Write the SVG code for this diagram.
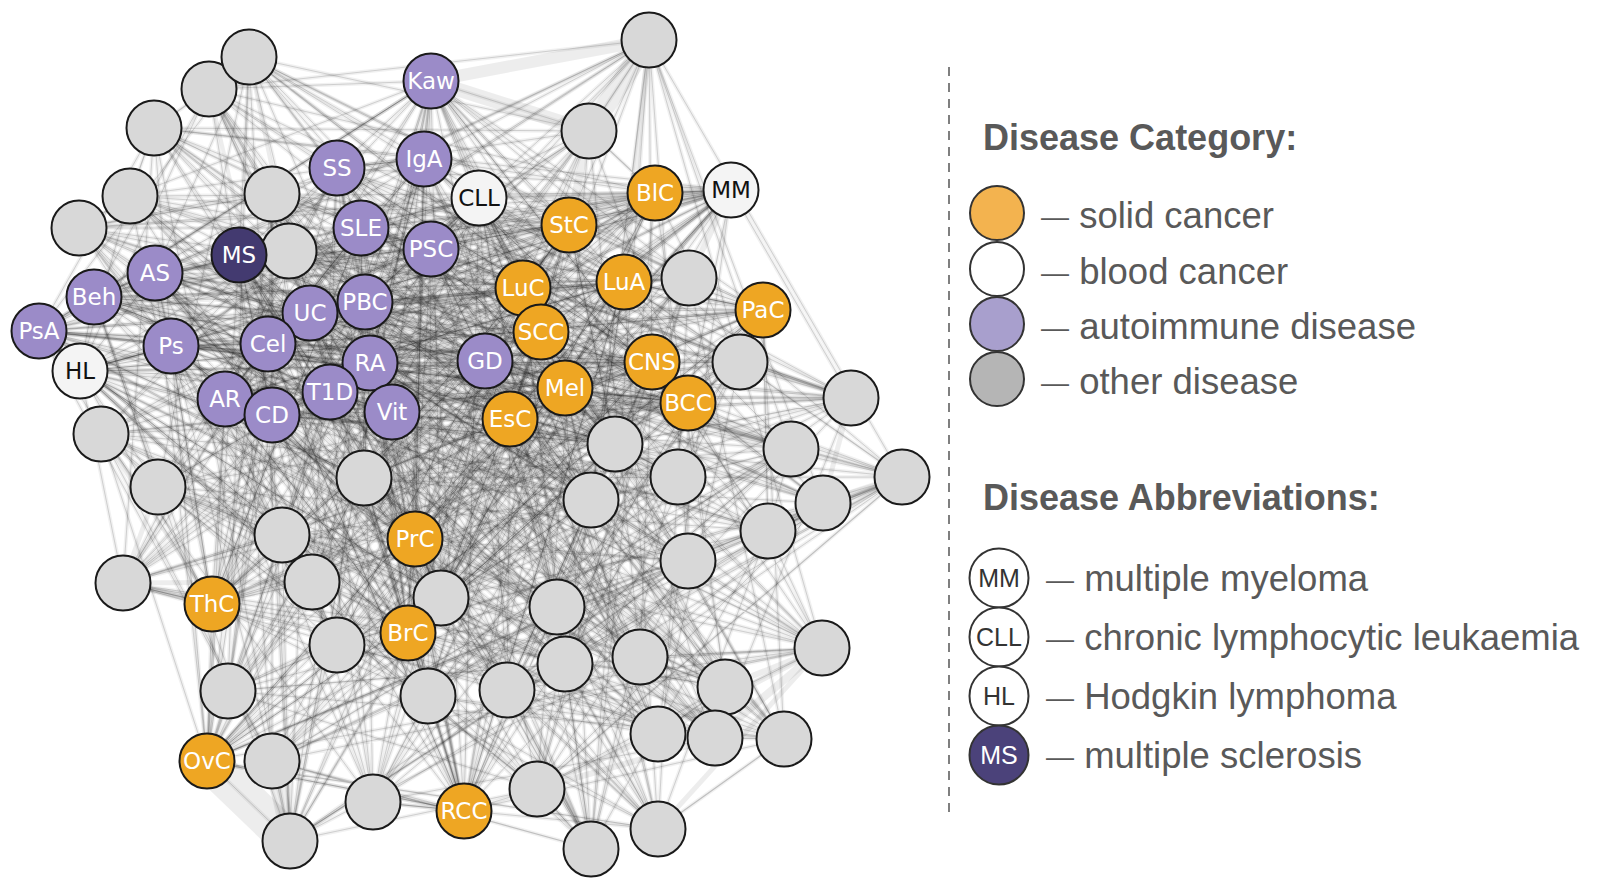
<svg xmlns="http://www.w3.org/2000/svg" width="1600" height="886" viewBox="0 0 1600 886">
<style>
.h{fill:none;stroke:#000;stroke-width:4;stroke-opacity:.055;stroke-linejoin:round}
.e{fill:none;stroke:#222;stroke-width:1;stroke-opacity:.17;stroke-linejoin:round}
.e2{fill:none;stroke:#222;stroke-width:1.2;stroke-opacity:.24;stroke-linejoin:round}
.c{fill:none;stroke:#222;stroke-width:1;stroke-opacity:.2;stroke-linejoin:round}
.b{fill:none;stroke:#000;stroke-opacity:.07;stroke-linecap:butt}
.node circle{stroke:#1a1a1a;stroke-width:2}
.node text{font-family:"DejaVu Sans",sans-serif;font-size:23px;text-anchor:middle;fill:#fff}
.g circle{fill:#d8d8d8}
.o circle{fill:#eea623}
.p circle{fill:#9b8bc8}
.m circle{fill:#433a70}
.w circle{fill:#f4f4f4}
.w text{fill:#111}
.lt{font-family:"Liberation Sans",Arial,sans-serif;font-size:36.5px;fill:#595959}
.lh{font-family:"Liberation Sans",Arial,sans-serif;font-size:36px;font-weight:bold;fill:#595959}
.lc{stroke:#333;stroke-width:2}
.ll{font-family:"Liberation Sans",Arial,sans-serif;font-size:25px;fill:#333;text-anchor:middle}
</style>
<defs>
<path id="k1" d="M249 57L822 648 431 81 158 487 649 40 39 331 415 539 652 362 370 363 209 89 640 657 424 159 282 535 589 131 80 371 441 598 688 403 330 392 154 128 725 687 337 168 123 583 655 193 171 346 408 633 740 362 392 412 130 196 658 734 361 228 212 604 731 190 268 344 428 696 851 398 485 361 79 228 715 738 431 249 312 582 569 225 225 399 373 802 615 444 541 332 272 194 784 739 479 198 337 645 523 288 272 415 464 811 678 477 510 419 289 251 658 829 365 302 228 691 624 282 101 434 557 607 791 449 364 478 239 255 207 761 689 278 565 664 902 477 565 388 155 273 272 761 763 310 507 690 823 503 94 297 290 841 537 789 591 500 310 313 591 849 768 531 688 561Z"/>
<path id="k3" d="M249 57L158 487 415 539 209 89 282 535 441 598 154 128 123 583 408 633 130 196 212 604 428 696 79 228 312 582 373 802 272 194 337 645 464 811 289 251 228 691 557 607 239 255 565 664 155 273 507 690 290 841 310 313 688 561 431 81 39 331 370 363 424 159 80 371 330 392 337 168 171 346 392 412 361 228 268 344 485 361 431 249 225 399 541 332 479 198 272 415 510 419 365 302 101 434 364 478 689 278 565 388 763 310 94 297 591 500 768 531 822 648 649 40 652 362 640 657 589 131 688 403 725 687 655 193 740 362 658 734 731 190 851 398 715 738 569 225 615 444 784 739 523 288 678 477 658 829 624 282 791 449 207 761 902 477 272 761 823 503 537 789 591 849Z"/>
<path id="k5" d="M249 57L39 331 640 657 441 598 337 168 740 362 212 604 485 361 569 225 272 194 272 415 658 829 557 607 689 278 272 761 290 841 768 531 158 487 370 363 589 131 154 128 171 346 658 734 428 696 431 249 615 444 337 645 510 419 624 282 239 255 565 388 823 503 310 313 822 648 415 539 424 159 688 403 123 583 392 412 731 190 79 228 225 399 784 739 464 811 365 302 791 449 565 664 763 310 537 789 688 561 649 40 209 89 80 371 725 687 408 633 361 228 851 398 312 582 541 332 523 288 289 251 101 434 207 761 155 273 94 297 591 849 431 81 652 362 282 535 330 392 655 193 130 196 268 344 715 738 373 802 479 198 678 477 228 691 364 478 902 477 507 690 591 500Z"/>
<path id="k7" d="M249 57L652 362 80 371 123 583 658 734 485 361 373 802 523 288 365 302 239 255 272 761 591 500 431 81 209 89 688 403 171 346 212 604 715 738 541 332 464 811 624 282 689 278 507 690 591 849 649 40 424 159 154 128 740 362 268 344 312 582 784 739 510 419 557 607 902 477 94 297 688 561 415 539 589 131 337 168 130 196 851 398 225 399 337 645 658 829 364 478 155 273 537 789 822 648 370 363 441 598 655 193 361 228 79 228 615 444 272 415 228 691 207 761 763 310 310 313 158 487 640 657 330 392 408 633 731 190 431 249 272 194 678 477 101 434 565 664 823 503 768 531 39 331 282 535 725 687 392 412 428 696 569 225 479 198 289 251 791 449 565 388 290 841Z"/>
<path id="k9" d="M249 57L209 89 154 128 130 196 79 228 272 194 289 251 239 255 507 690 688 561 370 363 330 392 392 412 485 361 541 332 510 419 364 478 763 310 768 531 652 362 688 403 740 362 851 398 615 444 678 477 791 449 272 761 591 849 415 539 441 598 408 633 428 696 373 802 464 811 557 607 155 273 310 313 39 331 80 371 171 346 268 344 225 399 272 415 101 434 565 388 591 500 649 40 589 131 655 193 731 190 569 225 523 288 624 282 902 477 537 789 158 487 282 535 123 583 212 604 312 582 337 645 228 691 565 664 290 841 431 81 424 159 337 168 361 228 431 249 479 198 365 302 689 278 94 297 822 648 640 657 725 687 658 734 715 738 784 739 658 829 207 761 823 503Z"/>
<path id="k11" d="M249 57L424 159 655 193 428 696 541 332 658 829 565 664 591 500 415 539 330 392 658 734 312 582 272 415 791 449 507 690 822 648 282 535 171 346 851 398 272 194 365 302 902 477 310 313 652 362 154 128 361 228 569 225 464 811 364 478 823 503 431 81 589 131 408 633 485 361 784 739 228 691 565 388 591 849 370 363 725 687 212 604 225 399 678 477 239 255 94 297 158 487 80 371 740 362 79 228 479 198 624 282 155 273 768 531 209 89 337 168 731 190 373 802 510 419 207 761 290 841 649 40 441 598 392 412 715 738 337 645 101 434 272 761 688 561 640 657 123 583 268 344 615 444 289 251 689 278 537 789 39 331 688 403 130 196 431 249 523 288 557 607 763 310Z"/>
<path id="k13" d="M249 57L589 131 392 412 312 582 678 477 689 278 310 313 209 89 655 193 485 361 337 645 791 449 94 297 39 331 154 128 731 190 541 332 228 691 272 761 822 648 80 371 130 196 569 225 510 419 565 664 591 849 640 657 171 346 79 228 523 288 364 478 290 841 415 539 725 687 268 344 272 194 624 282 763 310 431 81 441 598 658 734 225 399 289 251 902 477 768 531 424 159 408 633 715 738 272 415 239 255 537 789 652 362 337 168 428 696 784 739 101 434 507 690 158 487 688 403 361 228 373 802 658 829 565 388 688 561 282 535 740 362 431 249 464 811 207 761 591 500 370 363 123 583 851 398 479 198 557 607 823 503 649 40 330 392 212 604 615 444 365 302 155 273Z"/>
<path id="k17" d="M249 57L330 392 851 398 464 811 565 388 158 487 337 168 715 738 289 251 763 310 415 539 171 346 569 225 228 691 94 297 209 89 392 412 615 444 557 607 591 500 282 535 361 228 784 739 239 255 768 531 441 598 268 344 523 288 565 664 822 648 154 128 485 361 678 477 155 273 649 40 123 583 431 249 658 829 507 690 652 362 408 633 225 399 624 282 290 841 640 657 130 196 541 332 791 449 310 313 589 131 212 604 479 198 207 761 688 561 688 403 428 696 272 415 902 477 431 81 725 687 79 228 510 419 272 761 39 331 655 193 312 582 365 302 823 503 370 363 740 362 373 802 101 434 537 789 424 159 658 734 272 194 364 478 591 849 80 371 731 190 337 645 689 278Z"/>
<path id="k19" d="M249 57L725 687 431 249 228 691 537 789 589 131 268 344 464 811 272 761 652 362 392 412 272 194 207 761 822 648 337 168 312 582 624 282 591 500 80 371 428 696 678 477 763 310 370 363 130 196 784 739 689 278 431 81 123 583 569 225 101 434 310 313 441 598 851 398 510 419 507 690 209 89 658 734 479 198 565 664 158 487 655 193 225 399 557 607 591 849 688 403 485 361 289 251 823 503 640 657 361 228 337 645 902 477 649 40 171 346 373 802 791 449 768 531 330 392 79 228 658 829 94 297 424 159 212 604 523 288 565 388 39 331 408 633 615 444 364 478 688 561 154 128 715 738 365 302 290 841 282 535 731 190 272 415 155 273 415 539 740 362 541 332 239 255Z"/>
<path id="k25" d="M249 57L740 362 272 415 290 841 154 128 615 444 565 388 424 159 79 228 791 449 649 40 361 228 289 251 591 849 655 193 479 198 507 690 441 598 569 225 689 278 370 363 428 696 624 282 822 648 392 412 464 811 537 789 725 687 541 332 155 273 282 535 715 738 364 478 39 331 212 604 658 829 768 531 171 346 337 645 823 503 688 403 225 399 565 664 209 89 851 398 101 434 431 81 130 196 678 477 591 500 337 168 272 194 272 761 589 131 431 249 239 255 415 539 731 190 365 302 688 561 408 633 523 288 94 297 330 392 373 802 902 477 640 657 485 361 557 607 158 487 658 734 510 419 310 313 123 583 784 739 763 310 80 371 312 582 207 761 652 362 268 344 228 691Z"/>
<path id="c1" d="M431 81L408 633 39 331 652 362 364 478 337 168 464 811 624 282 225 399 591 500 424 159 207 761 763 310 268 344 510 419 361 228 212 604 688 403 171 346 485 361 431 249 415 539 731 190 80 371 565 388 155 273 441 598 655 193 272 415 541 332 94 297 615 444 569 225 330 392 523 288 239 255 479 198 310 313 392 412 365 302 370 363Z"/>
<path id="c2" d="M431 81L39 331 364 478 464 811 225 399 424 159 763 310 510 419 212 604 171 346 431 249 731 190 565 388 441 598 272 415 94 297 569 225 523 288 479 198 392 412 370 363 408 633 652 362 337 168 624 282 591 500 207 761 268 344 361 228 688 403 485 361 415 539 80 371 155 273 655 193 541 332 615 444 330 392 239 255 310 313 365 302Z"/>
<path id="c3" d="M431 81L652 362 464 811 591 500 763 310 361 228 171 346 415 539 565 388 655 193 94 297 330 392 479 198 365 302 408 633 364 478 624 282 424 159 268 344 212 604 485 361 731 190 155 273 272 415 615 444 523 288 310 313 370 363 39 331 337 168 225 399 207 761 510 419 688 403 431 249 80 371 441 598 541 332 569 225 239 255 392 412Z"/>
<path id="c5" d="M431 81L337 168 424 159 361 228 431 249 155 273 94 297 239 255 370 363 364 478 591 500 510 419 485 361 565 388 541 332 523 288 365 302 652 362 225 399 268 344 171 346 80 371 272 415 330 392 392 412 39 331 624 282 763 310 688 403 731 190 655 193 569 225 310 313 408 633 464 811 207 761 212 604 415 539 441 598 615 444 479 198Z"/>
<path id="c7" d="M431 81L624 282 510 419 415 539 272 415 239 255 408 633 225 399 361 228 731 190 541 332 479 198 39 331 591 500 212 604 80 371 94 297 310 313 652 362 424 159 688 403 565 388 615 444 392 412 364 478 207 761 171 346 155 273 569 225 365 302 337 168 763 310 485 361 441 598 330 392 370 363 464 811 268 344 431 249 655 193 523 288Z"/>
<path id="c11" d="M431 81L207 761 731 190 330 392 652 362 510 419 155 273 479 198 464 811 688 403 272 415 365 302 591 500 431 249 615 444 408 633 763 310 80 371 523 288 364 478 361 228 441 598 310 313 624 282 171 346 541 332 370 363 424 159 415 539 569 225 39 331 268 344 565 388 239 255 337 168 212 604 655 193 392 412 225 399 485 361 94 297Z"/>
</defs>
<rect width="1600" height="886" fill="#fff"/>
<g id="connectors">
<path class="b" stroke-width="12" d="M431 81L649 40"/>
<path class="b" stroke-width="14" d="M431 81L589 131"/>
<path class="b" stroke-width="20" d="M649 40L589 131"/>
<path class="b" stroke-width="38" d="M207 761L290 841"/>
<path class="b" stroke-width="16" d="M272 761L290 841"/>
<path class="b" stroke-width="8" d="M823 503L902 477"/>
<path class="b" stroke-width="6" d="M822 648L725 687"/>
<path class="b" stroke-width="8" d="M822 648L715 738"/>
<path class="b" stroke-width="6" d="M822 648L658 734"/>
<path class="b" stroke-width="10" d="M655 193L731 190"/>
<path class="b" stroke-width="6" d="M479 198L655 193"/>
<path class="b" stroke-width="4" d="M249 57L289 251"/>
<path class="b" stroke-width="4" d="M209 89L268 344"/>
<path class="b" stroke-width="6" d="M123 583L212 604"/>
<path class="b" stroke-width="5" d="M123 583L312 582"/>
<path class="b" stroke-width="6" d="M537 789L715 738"/>
<path class="b" stroke-width="5" d="M537 789L658 734"/>
<path class="b" stroke-width="5" d="M658 829L822 648"/>
<path class="b" stroke-width="5" d="M851 398L823 503"/>
<path class="b" stroke-width="6" d="M902 477L768 531"/>
<path class="b" stroke-width="6" d="M740 362L851 398"/>
<path class="b" stroke-width="6" d="M731 190L689 278"/>
<path class="b" stroke-width="8" d="M589 131L569 225"/>
<path class="b" stroke-width="6" d="M649 40L624 282"/>
<path class="b" stroke-width="4" d="M101 434L212 604"/>
<path class="b" stroke-width="5" d="M158 487L123 583"/>
<use href="#k1" class="h"/><use href="#k3" class="h"/><use href="#k5" class="h"/><use href="#k7" class="h"/><use href="#k9" class="h"/>
<use href="#k11" class="h"/><use href="#k13" class="h"/><use href="#k17" class="h"/><use href="#k19" class="h"/><use href="#k25" class="h"/>
<use href="#c1" class="h"/><use href="#c2" class="h"/><use href="#c3" class="h"/><use href="#c5" class="h"/><use href="#c7" class="h"/><use href="#c11" class="h"/>
<use href="#k1" class="e"/><use href="#k3" class="e"/><use href="#k5" class="e"/><use href="#k7" class="e"/><use href="#k9" class="e2"/>
<use href="#k11" class="e"/><use href="#k13" class="e"/><use href="#k17" class="e"/><use href="#k19" class="e"/><use href="#k25" class="e"/>
<use href="#c1" class="c"/><use href="#c2" class="c"/><use href="#c3" class="c"/><use href="#c5" class="c"/><use href="#c7" class="c"/><use href="#c11" class="c"/>
</g>
<g id="nodes">
<g id="n-g2" class="node g"><circle cx="209" cy="89" r="27.5"/></g>
<g id="n-g1" class="node g"><circle cx="249" cy="57" r="27.5"/></g>
<g id="n-g3" class="node g"><circle cx="154" cy="128" r="27.5"/></g>
<g id="n-g4" class="node g"><circle cx="130" cy="196" r="27.5"/></g>
<g id="n-g5" class="node g"><circle cx="79" cy="228" r="27.5"/></g>
<g id="n-g6" class="node g"><circle cx="272" cy="194" r="27.5"/></g>
<g id="n-g7" class="node g"><circle cx="289" cy="251" r="27.5"/></g>
<g id="n-g8" class="node g"><circle cx="649" cy="40" r="27.5"/></g>
<g id="n-g9" class="node g"><circle cx="589" cy="131" r="27.5"/></g>
<g id="n-g10" class="node g"><circle cx="689" cy="278" r="27.5"/></g>
<g id="n-g11" class="node g"><circle cx="740" cy="362" r="27.5"/></g>
<g id="n-g12" class="node g"><circle cx="851" cy="398" r="27.5"/></g>
<g id="n-g13" class="node g"><circle cx="101" cy="434" r="27.5"/></g>
<g id="n-g14" class="node g"><circle cx="158" cy="487" r="27.5"/></g>
<g id="n-g15" class="node g"><circle cx="364" cy="478" r="27.5"/></g>
<g id="n-g16" class="node g"><circle cx="282" cy="535" r="27.5"/></g>
<g id="n-g17" class="node g"><circle cx="123" cy="583" r="27.5"/></g>
<g id="n-g18" class="node g"><circle cx="312" cy="582" r="27.5"/></g>
<g id="n-g19" class="node g"><circle cx="441" cy="598" r="27.5"/></g>
<g id="n-g20" class="node g"><circle cx="337" cy="645" r="27.5"/></g>
<g id="n-g21" class="node g"><circle cx="228" cy="691" r="27.5"/></g>
<g id="n-g22" class="node g"><circle cx="428" cy="696" r="27.5"/></g>
<g id="n-g23" class="node g"><circle cx="272" cy="761" r="27.5"/></g>
<g id="n-g24" class="node g"><circle cx="373" cy="802" r="27.5"/></g>
<g id="n-g25" class="node g"><circle cx="290" cy="841" r="27.5"/></g>
<g id="n-g26" class="node g"><circle cx="615" cy="444" r="27.5"/></g>
<g id="n-g27" class="node g"><circle cx="678" cy="477" r="27.5"/></g>
<g id="n-g28" class="node g"><circle cx="791" cy="449" r="27.5"/></g>
<g id="n-g29" class="node g"><circle cx="902" cy="477" r="27.5"/></g>
<g id="n-g30" class="node g"><circle cx="823" cy="503" r="27.5"/></g>
<g id="n-g31" class="node g"><circle cx="591" cy="500" r="27.5"/></g>
<g id="n-g32" class="node g"><circle cx="768" cy="531" r="27.5"/></g>
<g id="n-g33" class="node g"><circle cx="688" cy="561" r="27.5"/></g>
<g id="n-g34" class="node g"><circle cx="557" cy="607" r="27.5"/></g>
<g id="n-g35" class="node g"><circle cx="822" cy="648" r="27.5"/></g>
<g id="n-g36" class="node g"><circle cx="640" cy="657" r="27.5"/></g>
<g id="n-g37" class="node g"><circle cx="565" cy="664" r="27.5"/></g>
<g id="n-g38" class="node g"><circle cx="725" cy="687" r="27.5"/></g>
<g id="n-g39" class="node g"><circle cx="507" cy="690" r="27.5"/></g>
<g id="n-g40" class="node g"><circle cx="658" cy="734" r="27.5"/></g>
<g id="n-g41" class="node g"><circle cx="715" cy="738" r="27.5"/></g>
<g id="n-g42" class="node g"><circle cx="784" cy="739" r="27.5"/></g>
<g id="n-g43" class="node g"><circle cx="537" cy="789" r="27.5"/></g>
<g id="n-g44" class="node g"><circle cx="658" cy="829" r="27.5"/></g>
<g id="n-g45" class="node g"><circle cx="591" cy="849" r="27.5"/></g>
<g id="n-Kaw" class="node p"><circle cx="431" cy="81" r="27.5"/><text x="431" y="89">Kaw</text></g>
<g id="n-IgA" class="node p"><circle cx="424" cy="159" r="27.5"/><text x="424" y="167">IgA</text></g>
<g id="n-SS" class="node p"><circle cx="337" cy="168" r="27.5"/><text x="337" y="176">SS</text></g>
<g id="n-SLE" class="node p"><circle cx="361" cy="228" r="27.5"/><text x="361" y="236">SLE</text></g>
<g id="n-PSC" class="node p"><circle cx="431" cy="249" r="27.5"/><text x="431" y="257">PSC</text></g>
<g id="n-AS" class="node p"><circle cx="155" cy="273" r="27.5"/><text x="155" y="281">AS</text></g>
<g id="n-Beh" class="node p"><circle cx="94" cy="297" r="27.5"/><text x="94" y="305">Beh</text></g>
<g id="n-PsA" class="node p"><circle cx="39" cy="331" r="27.5"/><text x="39" y="339">PsA</text></g>
<g id="n-HL" class="node w"><circle cx="80" cy="371" r="27.5"/><text x="80" y="379">HL</text></g>
<g id="n-Ps" class="node p"><circle cx="171" cy="346" r="27.5"/><text x="171" y="354">Ps</text></g>
<g id="n-UC" class="node p"><circle cx="310" cy="313" r="27.5"/><text x="310" y="321">UC</text></g>
<g id="n-PBC" class="node p"><circle cx="365" cy="302" r="27.5"/><text x="365" y="310">PBC</text></g>
<g id="n-Cel" class="node p"><circle cx="268" cy="344" r="27.5"/><text x="268" y="352">Cel</text></g>
<g id="n-RA" class="node p"><circle cx="370" cy="363" r="27.5"/><text x="370" y="371">RA</text></g>
<g id="n-T1D" class="node p"><circle cx="330" cy="392" r="27.5"/><text x="330" y="400">T1D</text></g>
<g id="n-Vit" class="node p"><circle cx="392" cy="412" r="27.5"/><text x="392" y="420">Vit</text></g>
<g id="n-AR" class="node p"><circle cx="225" cy="399" r="27.5"/><text x="225" y="407">AR</text></g>
<g id="n-CD" class="node p"><circle cx="272" cy="415" r="27.5"/><text x="272" y="423">CD</text></g>
<g id="n-GD" class="node p"><circle cx="485" cy="361" r="27.5"/><text x="485" y="369">GD</text></g>
<g id="n-MS" class="node m"><circle cx="239" cy="255" r="27.5"/><text x="239" y="263">MS</text></g>
<g id="n-CLL" class="node w"><circle cx="479" cy="198" r="27.5"/><text x="479" y="206">CLL</text></g>
<g id="n-MM" class="node w"><circle cx="731" cy="190" r="27.5"/><text x="731" y="198">MM</text></g>
<g id="n-BlC" class="node o"><circle cx="655" cy="193" r="27.5"/><text x="655" y="201">BlC</text></g>
<g id="n-StC" class="node o"><circle cx="569" cy="225" r="27.5"/><text x="569" y="233">StC</text></g>
<g id="n-LuC" class="node o"><circle cx="523" cy="288" r="27.5"/><text x="523" y="296">LuC</text></g>
<g id="n-SCC" class="node o"><circle cx="541" cy="332" r="27.5"/><text x="541" y="340">SCC</text></g>
<g id="n-LuA" class="node o"><circle cx="624" cy="282" r="27.5"/><text x="624" y="290">LuA</text></g>
<g id="n-PaC" class="node o"><circle cx="763" cy="310" r="27.5"/><text x="763" y="318">PaC</text></g>
<g id="n-CNS" class="node o"><circle cx="652" cy="362" r="27.5"/><text x="652" y="370">CNS</text></g>
<g id="n-BCC" class="node o"><circle cx="688" cy="403" r="27.5"/><text x="688" y="411">BCC</text></g>
<g id="n-Mel" class="node o"><circle cx="565" cy="388" r="27.5"/><text x="565" y="396">Mel</text></g>
<g id="n-EsC" class="node o"><circle cx="510" cy="419" r="27.5"/><text x="510" y="427">EsC</text></g>
<g id="n-PrC" class="node o"><circle cx="415" cy="539" r="27.5"/><text x="415" y="547">PrC</text></g>
<g id="n-ThC" class="node o"><circle cx="212" cy="604" r="27.5"/><text x="212" y="612">ThC</text></g>
<g id="n-BrC" class="node o"><circle cx="408" cy="633" r="27.5"/><text x="408" y="641">BrC</text></g>
<g id="n-OvC" class="node o"><circle cx="207" cy="761" r="27.5"/><text x="207" y="769">OvC</text></g>
<g id="n-RCC" class="node o"><circle cx="464" cy="811" r="27.5"/><text x="464" y="819">RCC</text></g>
</g>
<g id="legend">
<line x1="949" y1="67" x2="949" y2="817" stroke="#555" stroke-width="1.5" stroke-dasharray="9 7"/>
<text class="lh" x="983" y="150">Disease Category:</text>
<circle class="lc" cx="997" cy="213" r="27" fill="#f3b34f"/>
<circle class="lc" cx="997" cy="269" r="27" fill="#fff"/>
<circle class="lc" cx="997" cy="324" r="27" fill="#a89fcd"/>
<circle class="lc" cx="997" cy="379" r="27" fill="#b5b5b5"/>
<text class="lt" x="1041" y="228"><tspan font-size="28" dy="-2">—</tspan><tspan dy="2"> solid cancer</tspan></text>
<text class="lt" x="1041" y="284"><tspan font-size="28" dy="-2">—</tspan><tspan dy="2"> blood cancer</tspan></text>
<text class="lt" x="1041" y="339"><tspan font-size="28" dy="-2">—</tspan><tspan dy="2"> autoimmune disease</tspan></text>
<text class="lt" x="1041" y="394"><tspan font-size="28" dy="-2">—</tspan><tspan dy="2"> other disease</tspan></text>
<text class="lh" x="983" y="510">Disease Abbreviations:</text>
<circle class="lc" cx="999" cy="578" r="29.5" fill="#fff"/>
<circle class="lc" cx="999" cy="637" r="29.5" fill="#fff"/>
<circle class="lc" cx="999" cy="696" r="29.5" fill="#fff"/>
<circle class="lc" cx="999" cy="755" r="29.5" fill="#4b427a"/>
<text class="ll" x="999" y="587">MM</text>
<text class="ll" x="999" y="646">CLL</text>
<text class="ll" x="999" y="705">HL</text>
<text class="ll" x="999" y="764" style="fill:#fff">MS</text>
<text class="lt" x="1046" y="591"><tspan font-size="28" dy="-2">—</tspan><tspan dy="2"> multiple myeloma</tspan></text>
<text class="lt" x="1046" y="650"><tspan font-size="28" dy="-2">—</tspan><tspan dy="2"> chronic lymphocytic leukaemia</tspan></text>
<text class="lt" x="1046" y="709"><tspan font-size="28" dy="-2">—</tspan><tspan dy="2"> Hodgkin lymphoma</tspan></text>
<text class="lt" x="1046" y="768"><tspan font-size="28" dy="-2">—</tspan><tspan dy="2"> multiple sclerosis</tspan></text>
</g>
</svg>
